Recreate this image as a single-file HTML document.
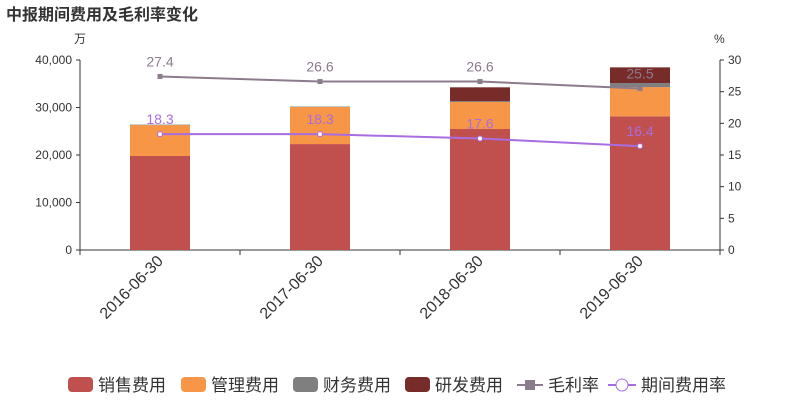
<!DOCTYPE html>
<html><head><meta charset="utf-8"><style>
body{margin:0;background:#fff;font-family:"Liberation Sans","Noto Sans CJK SC",sans-serif}
</style></head><body>
<svg id="c" width="800" height="400" xmlns="http://www.w3.org/2000/svg" style="font-family:'Liberation Sans','Noto Sans CJK SC',sans-serif">
<text x="6" y="20" font-size="16" font-weight="bold" fill="#333">中报期间费用及毛利率变化</text>
<text x="74" y="43" font-size="12" fill="#333">万</text>
<text x="714" y="43" font-size="12" fill="#333">%</text>
<g id="axes"></g><g id="bars"></g><g id="lines"></g><g id="legend"></g>
</svg>
<script>
const categories=["2016-06-30","2017-06-30","2018-06-30","2019-06-30"];
const sales=[19800,22300,25470,28150];
const mgmt=[6500,7800,5690,6150];
const fin=[100,100,210,850];
const rd=[0,0,2880,3300];
const gross=[27.4,26.6,26.6,25.5];
const period=[18.3,18.3,17.6,16.4];
const leftTicks=[0,10000,20000,30000,40000];
const rightTicks=[0,5,10,15,20,25,30];
const NS="http://www.w3.org/2000/svg";
const X0=80,X1=720,Y0=250,Y1=60;
const xs=i=>X0+(X1-X0)/categories.length*(i+0.5);
const yl=v=>Y0-(Y0-Y1)*v/40000;
const yr=v=>Y0-(Y0-Y1)*v/30;
function mk(p,t,a){const e=document.createElementNS(NS,t);for(const k in a)e.setAttribute(k,a[k]);document.getElementById(p).appendChild(e);return e;}
let e;
e=mk("axes","line",{x1:X0,y1:Y1,x2:X0,y2:Y0,stroke:"#333"});


e=mk("axes","line",{x1:X1,y1:Y1,x2:X1,y2:Y0,stroke:"#333"});


e=mk("axes","line",{x1:X0,y1:Y0,x2:X1,y2:Y0,stroke:"#333"});


leftTicks.forEach(v=>{mk("axes","line",{x1:X0-4,x2:X0,y1:yl(v),y2:yl(v),stroke:"#333"});
e=mk("axes","text",{x:X0-8,y:yl(v)+4,"text-anchor":"end","font-size":12,fill:"#333"});e.textContent=v.toLocaleString("en-US");

});
rightTicks.forEach(v=>{mk("axes","line",{x1:X1,x2:X1+4,y1:yr(v),y2:yr(v),stroke:"#333"});
e=mk("axes","text",{x:X1+8,y:yr(v)+4,"font-size":12,fill:"#333"});e.textContent=v;

});
for(let i=0;i<=categories.length;i++)mk("axes","line",{x1:X0+160*i,x2:X0+160*i,y1:Y0,y2:Y0+5,stroke:"#333"});
categories.forEach((c,i)=>{e=mk("axes","text",{x:xs(i)+4,y:262,"text-anchor":"end","font-size":16,fill:"#333",transform:`rotate(-45 ${xs(i)+4} 262)`});e.textContent=c;

});
const series=[[sales,"#c0504d","sales"],[mgmt,"#f79646","mgmt"],[fin,"#7f7f7f","finance"],[rd,"#772c2a","rd"]];
categories.forEach((c,i)=>{let acc=0;series.forEach(([arr,col,n])=>{const v=arr[i];if(v<=0)return;
e=mk("bars","rect",{x:xs(i)-30,y:yl(acc+v),width:60,height:yl(acc)-yl(acc+v),fill:col});

acc+=v;});});
function line(arr,col,n,fillDot,sq){
e=mk("lines","polyline",{points:arr.map((v,i)=>xs(i)+","+yr(v)).join(" "),fill:"none",stroke:col,"stroke-width":2});


arr.forEach((v,i)=>{
if(sq)e=mk("lines","rect",{x:xs(i)-2.5,y:yr(v)-2.5,width:5,height:5,fill:col});
else e=mk("lines","circle",{cx:xs(i),cy:yr(v),r:2.5,fill:"#fff",stroke:col});


e=mk("lines","text",{x:xs(i),y:yr(v)-10,"text-anchor":"middle","font-size":14,fill:col});e.textContent=v;

});}
line(gross,"#8c7b8c","gross-margin",0,1);
line(period,"#a86de0","period-expense-rate",0,0);
const leg=[["销售费用","#c0504d",68],["管理费用","#f79646",181],["财务费用","#7f7f7f",293],["研发费用","#772c2a",405]];
leg.forEach(([t,c,x])=>{e=mk("legend","rect",{x:x,y:377,width:25,height:15,rx:4,fill:c});


e=mk("legend","text",{x:x+30,y:391,"font-size":17,fill:"#333"});e.textContent=t;

});
mk("legend","line",{x1:517,x2:543,y1:385,y2:385,stroke:"#8c7b8c","stroke-width":2});
mk("legend","rect",{x:525,y:380,width:10,height:10,fill:"#8c7b8c"});
e=mk("legend","text",{x:548,y:391,"font-size":17,fill:"#333"});e.textContent="毛利率";


mk("legend","line",{x1:608,x2:636,y1:385,y2:385,stroke:"#a86de0","stroke-width":2});
mk("legend","circle",{cx:622,cy:385,r:6,fill:"#fff",stroke:"#a86de0"});
e=mk("legend","text",{x:641,y:391,"font-size":17,fill:"#333"});e.textContent="期间费用率";


</script>
</body></html>
